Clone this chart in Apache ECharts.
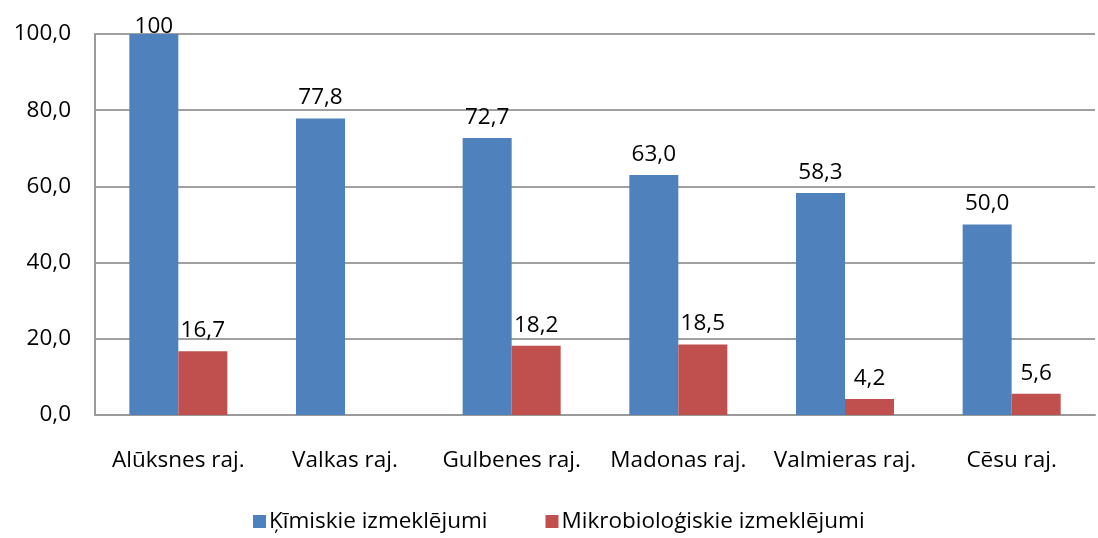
<!DOCTYPE html>
<html>
<head>
<meta charset="utf-8">
<script src="https://cdn.jsdelivr.net/npm/echarts@6/dist/echarts.min.js"></script>
<style>
  html, body { margin: 0; padding: 0; background: #fff; }
  #chart { width: 1098px; height: 538px; }
</style>
</head>
<body>
<div id="chart"></div>
<script>
// rajoni un vērtības (%)
const categories = ['Alūksnes raj.', 'Valkas raj.', 'Gulbenes raj.', 'Madonas raj.', 'Valmieras raj.', 'Cēsu raj.'];
const kimiskie = [100, 77.8, 72.7, 63.0, 58.3, 50.0];
const mikrobiologiskie = [16.7, null, 18.2, 18.5, 4.2, 5.6];
const seriesNames = ['Ķīmiskie izmeklējumi', 'Mikrobioloģiskie izmeklējumi'];

const FONT = '"Open Sans", sans-serif';
const FS = 22.5;

function fmt(v) {
    if (v === 100) return '100';
    return v.toFixed(1).replace('.', ',');
}

const chart = echarts.init(document.getElementById('chart'));

const labelStyle = {
    show: true,
    position: 'top',
    distance: 9,
    fontFamily: FONT,
    fontSize: FS,
    color: '#000',
    formatter: p => fmt(p.value)
};

chart.setOption({
    animation: false,
    textStyle: { fontFamily: FONT },
    grid: { left: 95, right: 3, top: 34, bottom: 123 },
    legend: {
        bottom: 0,
        left: 248,
        icon: 'rect',
        itemWidth: 13,
        itemHeight: 13,
        itemGap: 58,
        textStyle: { fontFamily: FONT, fontSize: FS, color: '#000', padding: [0, 0, 0, -2] },
        data: seriesNames
    },
    xAxis: {
        type: 'category',
        data: categories,
        axisTick: { show: false },
        axisLine: { lineStyle: { color: '#9a9a9a', width: 2 } },
        axisLabel: { color: '#000', fontSize: FS, fontFamily: FONT, margin: 34, interval: 0 }
    },
    yAxis: {
        type: 'value',
        min: 0,
        max: 100,
        interval: 20,
        axisLine: { show: true, lineStyle: { color: '#9a9a9a', width: 2 } },
        axisTick: { show: false },
        splitLine: { lineStyle: { color: '#a0a0a0', width: 2 } },
        axisLabel: {
            color: '#000', fontSize: FS, fontFamily: FONT, margin: 24,
            formatter: v => v.toFixed(1).replace('.', ',')
        }
    },
    series: [
        {
            name: seriesNames[0],
            type: 'bar',
            barWidth: 49,
            barGap: '0%',
            itemStyle: { color: '#4f81bd' },
            label: labelStyle,
            data: kimiskie.map(v => v === 100 ? { value: v, label: { distance: -4 } } : v)
        },
        {
            name: seriesNames[1],
            type: 'bar',
            barWidth: 49,
            itemStyle: { color: '#c0504d' },
            label: labelStyle,
            data: mikrobiologiskie.map(v => v === null ? '-' : v)
        }
    ]
});
</script>
</body>
</html>
